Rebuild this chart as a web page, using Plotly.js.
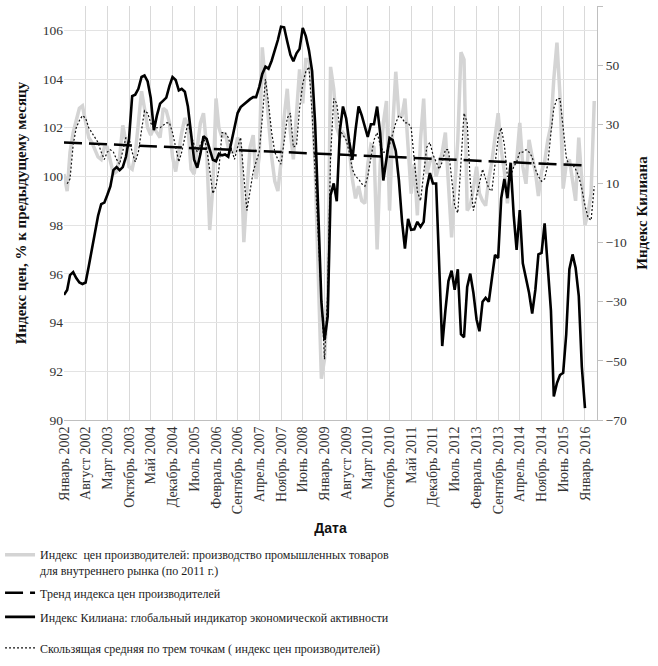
<!DOCTYPE html>
<html><head><meta charset="utf-8">
<script src="https://cdn.plot.ly/plotly-3.0.1.min.js"></script>
<style>body{margin:0;background:#fff}#chart{width:658px;height:666px}</style>
</head><body><div id="chart"></div>
<script>
// Monthly series starting January 2002
const startYear = 2002;
const ppi = [
 100.1, 99.4, 101.0, 101.8, 102.3, 102.8, 102.9, 102.3, 101.6, 101.4, 101.1, 100.8,
 100.7, 101.2, 101.2, 100.6, 100.1, 100.2, 100.8, 102.1, 101.4, 100.4, 100.3, 100.9,
 102.2, 103.5, 102.8, 102.0, 101.7, 102.0, 101.8, 101.6, 102.8, 102.7, 102.2, 100.8,
 100.2, 101.1, 101.8, 102.4, 102.1, 100.3, 100.1, 101.2, 102.2, 102.6, 101.2, 97.8,
 99.6, 103.2, 102.0, 101.6, 101.8, 101.2, 101.0, 101.0, 101.6, 101.2, 97.3, 99.4,
 101.2, 101.7, 99.9, 100.8, 105.3, 103.8, 102.2, 100.8, 99.8, 99.4, 100.6, 102.4,
 103.6, 101.8, 100.7, 102.6, 104.4, 103.0, 104.8, 104.8, 103.6, 100.3, 95.5, 91.7,
 92.5, 95.0, 104.5, 103.6, 102.0, 101.6, 101.8, 101.6, 101.1, 99.9, 99.1, 99.6,
 99.0, 98.9, 100.5, 101.3, 101.2, 97.0, 100.5, 102.2, 103.1, 98.6, 102.0, 104.3,
 102.5, 102.5, 103.2, 101.4, 99.3, 100.5, 98.4, 101.5, 103.2, 100.1, 100.6, 100.8,
 100.0, 100.5, 101.0, 101.8, 99.7, 97.5, 99.5, 101.5, 105.1, 104.8, 98.6, 98.8,
 99.5, 100.4, 99.3, 99.0, 98.8, 99.9, 100.6, 101.7, 102.6, 101.1, 100.2, 98.9,
 100.3, 100.5, 100.6, 102.2, 100.4, 99.7, 101.5, 100.8, 100.2, 99.2, 100.2, 100.6,
 101.5, 102.1, 104.0, 105.5, 103.3, 99.5, 100.5, 100.7, 99.8, 99.0, 101.6, 100.0,
 98.0, 98.5, 99.3, 103.1
];
const movingAvg = [
 null, 99.7, 99.9, 101.3, 102.0, 102.3, 102.5, 102.4, 102.0, 101.8, 101.6, 101.4,
 101.0, 100.7, 101.0, 101.1, 101.0, 100.7, 100.5, 101.0, 101.6, 101.6, 101.0, 100.6,
 101.0, 101.9, 102.7, 102.6, 102.2, 102.0, 102.0, 102.0, 102.1, 102.2, 102.2, 101.8,
 101.2, 100.6, 101.0, 101.6, 102.2, 101.7, 101.3, 101.0, 101.3, 101.6, 101.2, 100.3,
 99.3, 99.6, 100.3, 101.8, 101.8, 101.6, 101.1, 100.7, 101.2, 101.6, 100.0, 98.6,
 99.4, 100.2, 100.6, 101.0, 102.4, 104.0, 103.0, 101.8, 101.0, 100.7, 100.5, 101.4,
 102.4, 102.6, 101.2, 101.3, 102.8, 103.8, 104.3, 104.5, 102.6, 100.0, 97.5, 94.5,
 92.5, 95.2, 100.8, 103.2, 103.0, 101.9, 101.7, 101.5, 101.0, 100.3, 100.0, 99.9,
 99.7, 99.6, 100.0, 100.7, 101.5, 101.8, 101.3, 101.0, 101.0, 101.3, 101.8, 102.2,
 102.5, 102.4, 102.2, 102.2, 102.0, 100.8, 99.4, 99.0, 100.0, 101.2, 101.4, 100.9,
 100.6, 100.3, 100.6, 101.1, 101.1, 99.9, 98.8, 98.5, 100.5, 102.6, 102.2, 99.8,
 98.6, 99.2, 99.6, 100.3, 99.9, 99.5, 99.4, 100.5, 101.6, 102.0, 101.3, 100.0,
 100.0, 100.4, 100.6, 101.0, 101.0, 101.1, 101.0, 100.8, 100.3, 100.0, 99.8, 99.9,
 100.5, 101.8, 102.8, 103.2, 103.2, 102.0, 100.8, 100.4, 100.5, 100.3, 100.0, 99.5,
 98.8, 98.3, 98.2, 99.6
];
const kilian = [
 -27.7, -26, -21, -20, -22, -23.5, -24, -23.5, -18, -12, -6, -1,
 3, 3.5, 6, 9, 14.5, 15.5, 14.5, 15.5, 19, 25, 39.5, 40,
 42, 46, 46.5, 44.5, 39, 28, 33, 37, 38, 39, 43, 46,
 45, 41.5, 42, 41, 36, 27, 18, 15.3, 20, 26, 25, 21.5,
 18, 17.5, 20, 19.5, 19.8, 19, 24, 29, 33.8, 35.8, 36.8, 37.5,
 38.5, 39.2, 39.2, 42.6, 47, 49.5, 48.8, 51.5, 55, 58.5, 63, 62.8,
 58, 53.5, 51.3, 54, 55.5, 62.6, 59.8, 55, 48, 30, 0, -30,
 -43, -35, 6, 10, 4, 28, 36, 32, 24, 18, 28, 36,
 33, 29, 25.7, 30, 30, 36, 27, 11, 19, 25.4, 24.7, 21,
 11, -3, -12, -2, -5.7, -5.5, -3, -4.7, -3, 8.5, 13.5, 10,
 10, -20, -45, -33, -23, -19.5, -26, -19, -41, -42, -25, -20.5,
 -27, -36, -40, -30, -28.7, -30, -23, -14.2, -15.2, 5, 11.5, 5,
 17, -1, -12.5, 1, -17, -21.6, -27, -34, -26, -14, -13.5, -3.5,
 -17, -33, -62, -57.5, -54.8, -54, -41, -19, -14, -18.5, -28, -52,
 -66
];
const trendDates = ['2002-01-01', '2016-01-01'];
const trendValues = [101.4, 100.45];
const tickLabels = ['Январь 2002','Август 2002','Март 2003','Октябрь 2003','Май 2004','Декабрь 2004',
 'Июль 2005','Февраль 2006','Сентябрь 2006','Апрель 2007','Ноябрь 2007','Июнь 2008','Январь 2009',
 'Август 2009','Март 2010','Октябрь 2010','Май 2011','Декабрь 2011','Июль 2012','Февраль 2013',
 'Сентябрь 2013','Апрель 2014','Ноябрь 2014','Июнь 2015','Январь 2016'];
const leftTicks = [90, 92, 94, 96, 98, 100, 102, 104, 106];
const rightTicks = [-70, -50, -30, -10, 10, 30, 50, 70];
const names = [
 'Индекс  цен производителей: производство промышленных товаров<br>для внутреннего рынка (по 2011 г.)',
 'Тренд индекса цен производителей',
 'Индекс Килиана: глобальный индикатор экономической активности',
 'Скользящая средняя по трем точкам ( индекс цен производителей)'
];

function monthDate(i){
  const y = startYear + Math.floor(i/12), m = i%12 + 1;
  return y + '-' + (m<10?'0':'') + m + '-01';
}
const months = ppi.map((_, i) => monthDate(i));
const tickVals = tickLabels.map((_, i) => monthDate(i*7));

const serif = '"Liberation Serif", serif';
const traces = [
  {x: months, y: ppi, name: names[0], type:'scatter', mode:'lines',
   line:{color:'#d4d4d4', width:3.5}, legend:'legend'},
  {x: trendDates, y: trendValues, name: names[1], type:'scatter', mode:'lines',
   line:{color:'#000', width:2.5, dash:'18px,7px'}, legend:'legend2'},
  {x: months.slice(0, movingAvg.length), y: movingAvg, name: names[3], type:'scatter', mode:'lines',
   line:{color:'#111', width:1.2, dash:'2px,2px'}, legend:'legend4'},
  {x: months.slice(0, kilian.length), y: kilian, name: names[2], type:'scatter', mode:'lines',
   yaxis:'y2', line:{color:'#000', width:2.6}, legend:'legend3'}
];
const legBase = {x:-0.12, xanchor:'left', yanchor:'middle', bgcolor:'rgba(0,0,0,0)',
  font:{family:serif, size:12, color:'#1a1a1a'}, valign:'top'};
const layout = {
  width:658, height:666,
  margin:{l:64, r:61, t:6, b:246, autoexpand:false},
  paper_bgcolor:'#fff', plot_bgcolor:'#fff',
  showlegend:true,
  legend: Object.assign({}, legBase, {y:-0.345}),
  legend2: Object.assign({}, legBase, {y:-0.418}),
  legend3: Object.assign({}, legBase, {y:-0.476}),
  legend4: Object.assign({}, legBase, {y:-0.551}),
  xaxis:{type:'date', range:['2002-01-01','2016-04-28'], tickvals:tickVals, ticktext:tickLabels,
    tickangle:-90, tickfont:{family:serif, size:14, color:'#333'},
    showgrid:true, gridcolor:'#d9d9d9', gridwidth:1, showline:true, linecolor:'#bfbfbf',
    ticks:'', zeroline:false,
    title:{text:'<b>Дата</b>', font:{family:'"Liberation Sans", Arial, sans-serif', size:14, color:'#111'}, standoff:9}},
  yaxis:{range:[90,107], tickvals:leftTicks, tickfont:{family:serif, size:13.5, color:'#333'},
    showgrid:true, gridcolor:'#e3e3e3', zeroline:false, showline:false, ticks:'',
    title:{text:'<b>Индекс цен, % к предыдущему месяцу</b>', font:{family:serif, size:15, color:'#111'}, standoff:12}},
  yaxis2:{range:[-70,70], tickvals:rightTicks, overlaying:'y', side:'right',
    tickfont:{family:serif, size:13.5, color:'#333'}, showgrid:false, zeroline:false,
    showline:true, linecolor:'#bfbfbf', ticks:'outside', ticklen:5, tickcolor:'#bfbfbf',
    title:{text:'<b>Индекс Килиана</b>', font:{family:serif, size:15, color:'#111'}, standoff:10}}
};
Plotly.newPlot('chart', traces, layout, {staticPlot:true});
</script>
</body></html>
